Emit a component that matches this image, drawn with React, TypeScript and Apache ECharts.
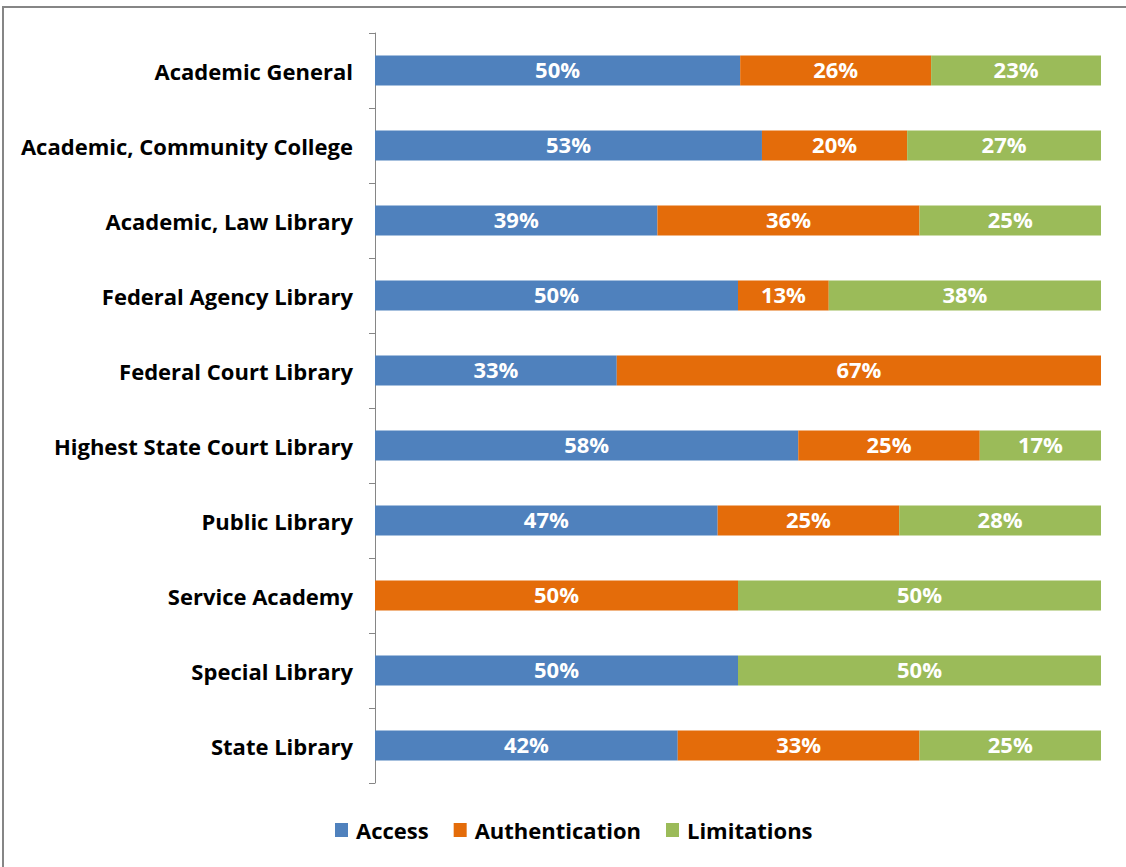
import React, { useEffect, useRef } from "react";
import * as echarts from "echarts";

const categories = [
  "Academic General",
  "Academic, Community College",
  "Academic, Law Library",
  "Federal Agency Library",
  "Federal Court Library",
  "Highest State Court Library",
  "Public Library",
  "Service Academy",
  "Special Library",
  "State Library",
];
const access = [50.3, 53.3, 38.9, 50, 33.3, 58.3, 47.2, 0, 50, 41.7];
const authentication = [26.3, 20.0, 36.1, 12.5, 66.7, 25, 25, 50, 0, 33.3];
const limitations = [23.4, 26.7, 25, 37.5, 0, 16.7, 27.8, 50, 50, 25];

const FONT = "Open Sans";

export default function App() {
  const ref = useRef<HTMLDivElement>(null);
  useEffect(() => {
    if (!ref.current) return;
    const chart = echarts.init(ref.current, null, { renderer: "svg" });
    const label = {
      show: true,
      position: "inside",
      offset: [0, -2],
      color: "#ffffff",
      fontFamily: FONT,
      fontWeight: "bold",
      fontSize: 22,
      formatter: (p: any) => (p.value > 0 ? Math.round(p.value) + "%" : ""),
    };
    const mk = (name: string, data: number[], color: string) => ({
      name,
      type: "bar",
      stack: "total",
      data,
      barWidth: 30,
      itemStyle: { color },
      label,
    });
    chart.setOption({
      animation: false,
      backgroundColor: "#ffffff",
      graphic: [
        {
          type: "rect",
          shape: { x: 3, y: 7, width: 1300, height: 1000 },
          style: { fill: "none", stroke: "#868686", lineWidth: 2 },
          silent: true,
        },
      ],
      grid: { left: 375, right: 25, top: 33, bottom: 84 },
      xAxis: { type: "value", min: 0, max: 100, show: false },
      yAxis: {
        type: "category",
        data: categories,
        inverse: true,
        axisLine: { lineStyle: { color: "#868686", width: 1 } },
        axisTick: { show: true, length: 6, inside: false, lineStyle: { color: "#868686" } },
        axisLabel: {
          color: "#000000",
          fontFamily: FONT,
          fontWeight: "bold",
          fontSize: 22,
          margin: 22,
          padding: [0, 0, 5, 0],
        },
      },
      legend: {
        top: 814,
        left: 330,
        itemWidth: 13,
        itemHeight: 14,
        itemGap: 25,
        icon: "rect",
        textStyle: {
          color: "#000",
          fontFamily: FONT,
          fontWeight: "bold",
          fontSize: 22,
          padding: [0, 0, 0, 3],
        },
      },
      series: [
        mk("Access", access, "#4F81BD"),
        mk("Authentication", authentication, "#E46C0A"),
        mk("Limitations", limitations, "#9BBB59"),
      ],
    });
    return () => chart.dispose();
  }, []);
  return (
    <div
      ref={ref}
      style={{ position: "fixed", left: 0, top: 0, width: 1126, height: 867 }}
    />
  );
}
